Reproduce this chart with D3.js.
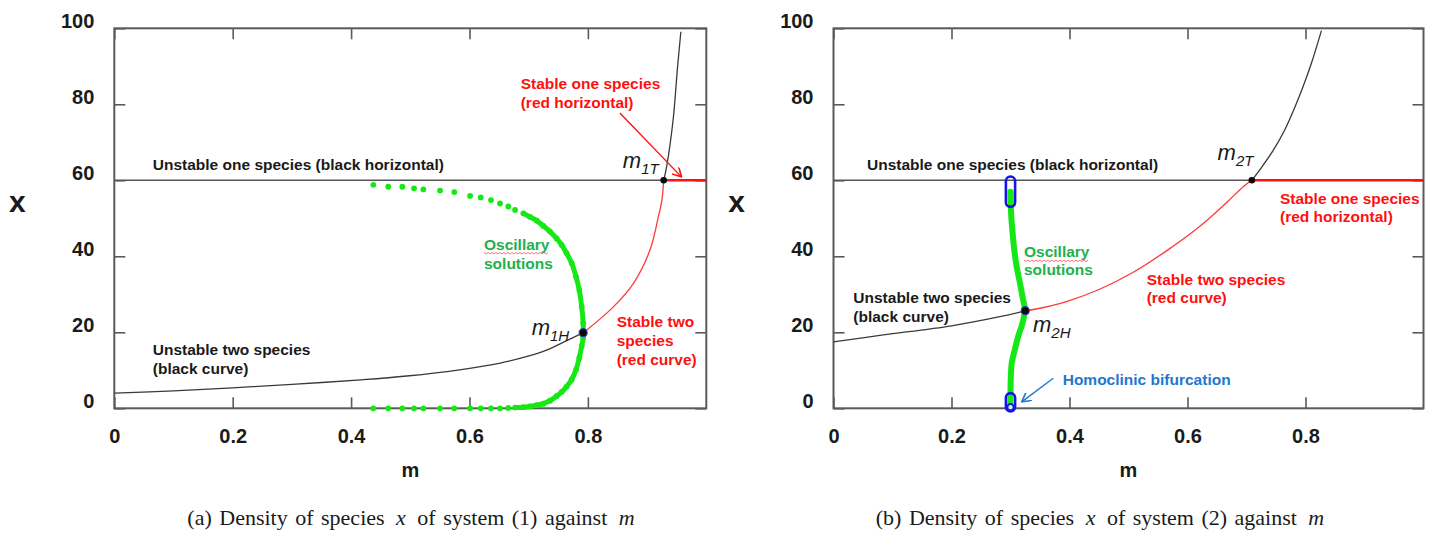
<!DOCTYPE html>
<html>
<head>
<meta charset="utf-8">
<script src="https://cdn.jsdelivr.net/npm/d3@7"></script>
<style>
  body { margin: 0; background: #fff; }
  svg text { font-family: "Liberation Sans", Arial, sans-serif; }
  svg text.caption { font-family: "Liberation Serif", "Times New Roman", serif; word-spacing: 2px; }
</style>
</head>
<body>
<svg id="chart" width="1432" height="533"></svg>
<script>
// shared axis values
const mTicks = [0, 0.2, 0.4, 0.6, 0.8];
const xTicks = [0, 20, 40, 60, 80, 100];
const oneSpeciesX = 60;

// ---- panel (a), system (1)
const aTwoUnstableM = [0, 0.1, 0.2, 0.3, 0.417, 0.494, 0.586, 0.652, 0.699, 0.73, 0.764, 0.792];
const aTwoUnstableX = [4.0, 4.6, 5.4, 6.3, 7.5, 8.5, 10.2, 11.9, 13.7, 15.3, 17.8, 19.9];
const aTwoStableM = [0.792, 0.798, 0.843, 0.877, 0.905, 0.919, 0.925, 0.928];
const aTwoStableX = [19.9, 20.6, 26.7, 32.9, 41.7, 50.4, 54.8, 60];
const aUpperM = [0.928, 0.933, 0.944, 0.951, 0.957];
const aUpperX = [60, 63.6, 76, 89, 99.1];
const aOscM = [0.4375, 0.4628, 0.4865, 0.5063, 0.522, 0.5502, 0.5743, 0.601, 0.619, 0.6363, 0.6515, 0.6655, 0.677,
               0.691, 0.702, 0.7135, 0.7247, 0.736, 0.747, 0.7557, 0.764, 0.7726, 0.78, 0.7855, 0.7895, 0.792, 0.7922];
const aOscMax = [58.8, 58.3, 58.3, 57.9, 57.6, 57.3, 56.9, 55.9, 55.5, 54.8, 53.9, 53.1, 52.2,
                 51.3, 50.4, 49.4, 48, 46.5, 44.7, 43, 40.8, 38.2, 34.6, 31.1, 26.7, 22.4, 20];
const aOscMin = [0, 0, 0, 0, 0, 0, 0, 0, 0, 0, 0, 0.1, 0.2,
                 0.3, 0.5, 0.8, 1.2, 2, 3.2, 4.3, 5.7, 7.6, 10.2, 13.3, 16.4, 18.5, 20];
const aHopf = [0.792, 19.9];
const aTrans = [0.928, 60];

// ---- panel (b), system (2)
const bTwoUnstableM = [0, 0.0844, 0.2, 0.282, 0.316, 0.325];
const bTwoUnstableX = [17.5, 19.3, 21.7, 24.1, 25.3, 25.7];
const bTwoStableM = [0.325, 0.3386, 0.395, 0.452, 0.508, 0.565, 0.621, 0.666, 0.695, 0.709];
const bTwoStableX = [25.7, 26, 28.1, 31.4, 35.8, 41.5, 47.9, 54.1, 58.4, 60];
const bUpperM = [0.709, 0.725, 0.745, 0.765, 0.78, 0.795, 0.81, 0.827];
const bUpperX = [60, 63.3, 67.8, 73.3, 78.5, 84.3, 90.8, 99.4];
const bOscM = [0.2999, 0.2999, 0.302, 0.3071, 0.3128, 0.3203, 0.3242, 0.3203, 0.3161, 0.3104, 0.3064, 0.3036, 0.3013, 0.3003, 0.3];
const bOscX = [1, 3.1, 11.8, 15.3, 18.8, 22.4, 25.9, 29.4, 32.9, 37.3, 41.7, 46.1, 50.4, 54.8, 57];
const bHomoM = [0.3, 0.3];
const bHomoLo = [53, -0.8];
const bHomoHi = [61, 4];
const bHomoPoint = [0.3, 0.3];
const bHopf = [0.325, 25.7];
const bTrans = [0.709, 60];

const RED = "#ff1010", GREEN_DOT = "#16e816", GREEN_TXT = "#22b04c", BLUE = "#1414e6", BLUE_TXT = "#1f78cf";
const FRAME = "#5a5a5a";

const svg = d3.select("#chart");
const yTop = 28.3, yBottom = 408.3;

const defs = svg.append("defs");
[["arrRed", RED], ["arrBlue", BLUE_TXT]].forEach(([id, c]) => {
  defs.append("marker").attr("id", id).attr("viewBox", "0 0 10 10")
    .attr("refX", 9).attr("refY", 5).attr("markerWidth", 10).attr("markerHeight", 10)
    .attr("markerUnits", "userSpaceOnUse").attr("orient", "auto")
    .append("path").attr("d", "M0,0 L9,5 L0,10").attr("fill", "none").attr("stroke", c).attr("stroke-width", 1.6);
});

const zip = (a, b) => a.map((v, i) => [v, b[i]]);

function drawPanel(p) {
  const x = d3.scaleLinear().domain([0, 1]).range([p.left, p.right]);
  const y = d3.scaleLinear().domain([0, 100]).range([yBottom, yTop]);
  const g = svg.append("g");
  const line = d3.line().x(d => x(d[0])).y(d => y(d[1]));

  // axes, ticks inward on all four sides
  const fmt = d => d === 0 ? "0" : d3.format(".1f")(d);
  const bottom = g.append("g").attr("transform", `translate(0,${yBottom})`)
    .call(d3.axisBottom(x).tickValues(mTicks).tickFormat(fmt).tickSizeInner(-11).tickSizeOuter(0).tickPadding(20.5));
  const left = g.append("g").attr("transform", `translate(${p.left},0)`)
    .call(d3.axisLeft(y).tickValues(xTicks).tickSizeInner(-11).tickSizeOuter(0).tickPadding(20));
  g.append("g").attr("transform", `translate(0,${yTop})`)
    .call(d3.axisTop(x).tickValues(mTicks).tickFormat("").tickSizeInner(-11).tickSizeOuter(0));
  g.append("g").attr("transform", `translate(${p.right},0)`)
    .call(d3.axisRight(y).tickValues(xTicks).tickFormat("").tickSizeInner(-11).tickSizeOuter(0));
  g.selectAll(".domain").remove();
  g.selectAll(".tick line").attr("stroke", FRAME).attr("stroke-width", 1.6);
  [bottom, left].forEach(a => a.selectAll("text")
    .attr("font-size", 20).attr("font-weight", "bold").attr("fill", "#1a1a1a"));
  left.selectAll("text").attr("dy", "-0.03em");

  g.append("rect").attr("x", p.left).attr("y", yTop)
    .attr("width", p.right - p.left).attr("height", yBottom - yTop)
    .attr("fill", "none").attr("stroke", FRAME).attr("stroke-width", 2);

  // axis titles
  g.append("text").attr("x", (p.left + p.right) / 2).attr("y", 476.5).attr("text-anchor", "middle")
    .attr("font-size", 20).attr("font-weight", "bold").attr("fill", "#1a1a1a").text("m");
  g.append("text").attr("x", p.left - 97).attr("y", 212).attr("text-anchor", "middle")
    .attr("font-size", 30).attr("font-weight", "bold").attr("fill", "#1a1a1a").text("x");

  // one-species branch
  g.append("path").attr("d", line([[0, oneSpeciesX], [p.trans[0], oneSpeciesX]]))
    .attr("stroke", "#555").attr("stroke-width", 1.6).attr("fill", "none");
  g.append("path").attr("d", line([[p.trans[0], oneSpeciesX], [1, oneSpeciesX]]))
    .attr("stroke", RED).attr("stroke-width", 2.6).attr("fill", "none");

  const smooth = d3.line().x(d => x(d[0])).y(d => y(d[1])).curve(d3.curveCatmullRom);
  g.append("path").attr("d", smooth(zip(p.unM, p.unX))).attr("fill", "none").attr("stroke", "#3a3a3a").attr("stroke-width", 1.3);
  g.append("path").attr("d", smooth(zip(p.upM, p.upX))).attr("fill", "none").attr("stroke", "#3a3a3a").attr("stroke-width", 1.3);
  g.append("path").attr("d", smooth(zip(p.stM, p.stX))).attr("fill", "none").attr("stroke", "#ff3a3a").attr("stroke-width", 1.3);

  p.extra(g, x, y, smooth);

  // bifurcation points
  g.append("circle").attr("cx", x(p.hopf[0])).attr("cy", y(p.hopf[1])).attr("r", 4)
    .attr("fill", "#0a0a0a").attr("stroke", "#2a3fa0").attr("stroke-width", 1.2);
  g.append("circle").attr("cx", x(p.trans[0])).attr("cy", y(p.trans[1])).attr("r", 3.3).attr("fill", "#0a0a0a");

  // annotations
  p.notes.forEach(n => {
    const t = g.append("text").attr("x", x(n.m)).attr("y", y(n.x))
      .attr("font-size", 15.5).attr("font-weight", "bold").attr("fill", n.c).text(n.t);
    if (n.wavy) {
      const b = t.node().getBBox();
      const yy = y(n.x) + 3;
      const pts = d3.range(b.x, b.x + b.width, 2).map((px, i) => [px, yy + (i % 2 ? 1.2 : -0.4)]);
      g.append("path").attr("d", d3.line()(pts)).attr("fill", "none").attr("stroke", "#ff5050").attr("stroke-width", 0.8);
    }
  });
  p.subs.forEach(s => {
    const t = g.append("text").attr("x", x(s.m)).attr("y", y(s.x)).attr("fill", "#1a1a1a")
      .attr("font-style", "italic");
    t.append("tspan").attr("font-size", 22).text("m");
    t.append("tspan").attr("font-size", 15).attr("dy", 6).text(s.sub);
  });
  p.arrows.forEach(a => {
    g.append("path").attr("d", line(a.pts)).attr("stroke", a.c).attr("stroke-width", 1.4)
      .attr("fill", "none").attr("marker-end", `url(#${a.id})`);
  });

  // caption
  const cap = g.append("text").attr("class", "caption").attr("x", p.capX).attr("y", 525).attr("text-anchor", "middle")
    .attr("font-size", 22).attr("fill", "#1a1a1a");
  cap.append("tspan").text(p.cap[0]);
  cap.append("tspan").attr("font-style", "italic").attr("dx", 4).text("x");
  cap.append("tspan").attr("dx", 4).text(p.cap[1]);
  cap.append("tspan").attr("font-style", "italic").attr("dx", 4).text("m");
}

drawPanel({
  left: 114.3, right: 706.3, capX: 411,
  unM: aTwoUnstableM, unX: aTwoUnstableX, stM: aTwoStableM, stX: aTwoStableX, upM: aUpperM, upX: aUpperX,
  hopf: aHopf, trans: aTrans,
  cap: ["(a) Density of species ", " of system (1) against "],
  extra: (g, x, y, smooth) => {
    // dense part of the periodic-orbit envelope
    const dense = aOscM.map((m, i) => [m, aOscMax[i]]).filter(d => d[0] >= 0.691)
      .concat(aOscM.map((m, i) => [m, aOscMin[i]]).filter(d => d[0] >= 0.677).reverse());
    g.append("path").attr("d", smooth(dense)).attr("fill", "none").attr("stroke", GREEN_DOT).attr("stroke-width", 5);
    const dots = aOscM.flatMap((m, i) => [[m, aOscMax[i]], [m, aOscMin[i]]]);
    g.selectAll(".osc").data(dots).join("circle").attr("class", "osc")
      .attr("cx", d => x(d[0])).attr("cy", d => y(d[1])).attr("r", 2.9).attr("fill", GREEN_DOT);
  },
  notes: [
    { t: "Unstable one species (black horizontal)", m: 0.065, x: 62.6, c: "#1a1a1a" },
    { t: "Stable one species", m: 0.6865, x: 84.0, c: RED },
    { t: "(red horizontal)", m: 0.6865, x: 79.0, c: RED },
    { t: "Oscillary", m: 0.6245, x: 41.7, c: GREEN_TXT, wavy: true },
    { t: "solutions", m: 0.6245, x: 36.7, c: GREEN_TXT },
    { t: "Stable two", m: 0.8486, x: 21.5, c: RED },
    { t: "species", m: 0.8486, x: 16.4, c: RED },
    { t: "(red curve)", m: 0.8486, x: 11.4, c: RED },
    { t: "Unstable two species", m: 0.065, x: 14.0, c: "#1a1a1a" },
    { t: "(black curve)", m: 0.065, x: 9.0, c: "#1a1a1a" }
  ],
  subs: [{ m: 0.859, x: 63.3, sub: "1T" }, { m: 0.705, x: 19.3, sub: "1H" }],
  arrows: [{ pts: [[0.854, 77.7], [0.958, 60.9]], c: RED, id: "arrRed" }]
});

drawPanel({
  left: 833.5, right: 1423.5, capX: 1100,
  unM: bTwoUnstableM, unX: bTwoUnstableX, stM: bTwoStableM, stX: bTwoStableX, upM: bUpperM, upX: bUpperX,
  hopf: bHopf, trans: bTrans,
  cap: ["(b) Density of species ", " of system (2) against "],
  extra: (g, x, y, smooth) => {
    g.append("path").attr("d", smooth(zip(bOscM, bOscX))).attr("fill", "none")
      .attr("stroke", GREEN_DOT).attr("stroke-width", 6).attr("stroke-linecap", "round");
    bHomoM.forEach((m, i) => {
      g.append("rect").attr("x", x(m) - 4.6).attr("y", y(bHomoHi[i]))
        .attr("width", 9.2).attr("height", y(bHomoLo[i]) - y(bHomoHi[i])).attr("rx", 4.6)
        .attr("fill", "none").attr("stroke", BLUE).attr("stroke-width", 2.6);
    });
    g.append("circle").attr("cx", x(bHomoPoint[0])).attr("cy", y(bHomoPoint[1])).attr("r", 3.2)
      .attr("fill", "#c8f8c8").attr("stroke", BLUE).attr("stroke-width", 2);
  },
  notes: [
    { t: "Unstable one species (black horizontal)", m: 0.0568, x: 62.6, c: "#1a1a1a" },
    { t: "Stable one species", m: 0.7568, x: 53.8, c: RED },
    { t: "(red horizontal)", m: 0.7568, x: 49.0, c: RED },
    { t: "Stable two species", m: 0.5308, x: 32.4, c: RED },
    { t: "(red curve)", m: 0.5308, x: 27.7, c: RED },
    { t: "Oscillary", m: 0.3229, x: 39.7, c: GREEN_TXT, wavy: true },
    { t: "solutions", m: 0.3229, x: 35.1, c: GREEN_TXT },
    { t: "Unstable two species", m: 0.0336, x: 27.8, c: "#1a1a1a" },
    { t: "(black curve)", m: 0.0336, x: 22.8, c: "#1a1a1a" },
    { t: "Homoclinic bifurcation", m: 0.3885, x: 6.1, c: BLUE_TXT }
  ],
  subs: [{ m: 0.651, x: 65.3, sub: "2T" }, { m: 0.3381, x: 20.2, sub: "2H" }],
  arrows: [{ pts: [[0.3725, 7.9], [0.319, 1.7]], c: BLUE_TXT, id: "arrBlue" }]
});
</script>
</body>
</html>
